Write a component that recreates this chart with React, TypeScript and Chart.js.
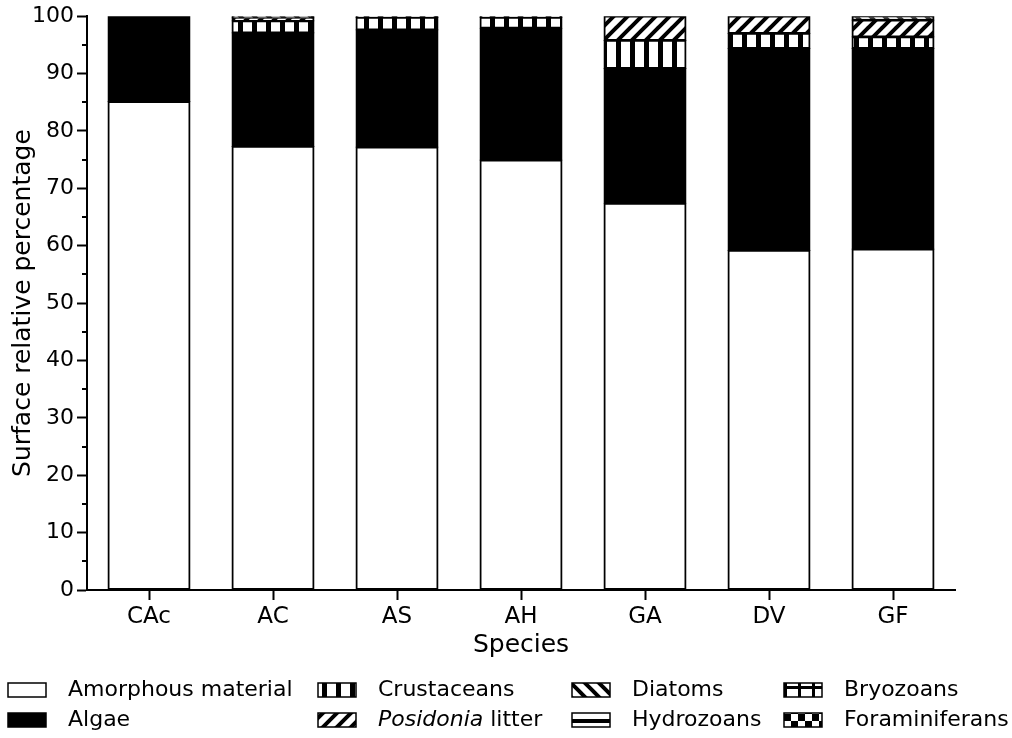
import { useEffect, useRef } from 'react';
import { Chart, registerables } from 'chart.js';
Chart.register(...registerables);

const categories = ['CAc', 'AC', 'AS', 'AH', 'GA', 'DV', 'GF'];
const amorphous = [85.1, 77.3, 77.2, 74.9, 67.4, 59.2, 59.4];
const algae = [14.9, 19.8, 20.4, 23.0, 23.5, 35.2, 35.0];
const crustaceans = [0, 2.1, 2.2, 1.9, 4.9, 2.6, 2.0];
const posidonia = [0, 0.5, 0, 0, 4.2, 3.0, 2.9];
const diatoms = [0, 0.3, 0.2, 0.2, 0, 0, 0.7];
const hydrozoans = [0, 0, 0, 0, 0, 0, 0];
const bryozoans = [0, 0, 0, 0, 0, 0, 0];
const foraminiferans = [0, 0, 0, 0, 0, 0, 0];
const yTicks = [0, 10, 20, 30, 40, 50, 60, 70, 80, 90, 100];
const yMinorTicks = [5, 15, 25, 35, 45, 55, 65, 75, 85, 95];

const FONT = '"DejaVu Sans", "Noto Sans", sans-serif';

type Kind = 'white' | 'black' | 'vstripes' | 'fwd' | 'back' | 'hstripes' | 'grid' | 'checker';

function makePattern(kind: Kind): CanvasPattern | string {
  if (kind === 'white') return '#ffffff';
  if (kind === 'black') return '#000000';
  const c = document.createElement('canvas');
  const size = 14;
  c.width = size;
  c.height = size;
  const ctx = c.getContext('2d')!;
  ctx.fillStyle = '#fff';
  ctx.fillRect(0, 0, size, size);
  ctx.fillStyle = '#000';
  ctx.strokeStyle = '#000';
  if (kind === 'vstripes') {
    ctx.fillRect(0, 0, 5, size);
  } else if (kind === 'fwd' || kind === 'back') {
    ctx.lineWidth = 4;
    ctx.lineCap = 'square';
    for (const o of [-size, 0, size]) {
      ctx.beginPath();
      if (kind === 'fwd') {
        ctx.moveTo(o, size);
        ctx.lineTo(o + size, 0);
      } else {
        ctx.moveTo(o, 0);
        ctx.lineTo(o + size, size);
      }
      ctx.stroke();
    }
  } else if (kind === 'hstripes') {
    ctx.fillRect(0, 5, size, 4);
  } else if (kind === 'grid') {
    ctx.fillRect(0, 0, 3, size);
    ctx.fillRect(0, 0, size, 3);
  } else if (kind === 'checker') {
    ctx.fillRect(0, 0, 7, 7);
    ctx.fillRect(7, 7, 7, 7);
  }
  return ctx.createPattern(c, 'repeat')!;
}

const seriesDefs: { label: string; data: number[]; kind: Kind }[] = [
  { label: 'Amorphous material', data: amorphous, kind: 'white' },
  { label: 'Algae', data: algae, kind: 'black' },
  { label: 'Crustaceans', data: crustaceans, kind: 'vstripes' },
  { label: 'Posidonia litter', data: posidonia, kind: 'fwd' },
  { label: 'Diatoms', data: diatoms, kind: 'back' },
  { label: 'Hydrozoans', data: hydrozoans, kind: 'hstripes' },
  { label: 'Bryozoans', data: bryozoans, kind: 'grid' },
  { label: 'Foraminiferans', data: foraminiferans, kind: 'checker' },
];

// legend slots: column-major, 2 rows x 4 columns
const legendCols = [8, 318, 572, 784];
const legendRows = [690, 720];

export default function App() {
  const ref = useRef<HTMLCanvasElement>(null);
  useEffect(() => {
    const canvas = ref.current!;
    const fills = seriesDefs.map((s) => makePattern(s.kind));

    const extras = {
      id: 'extras',
      afterDraw(chart: any) {
        const ctx = chart.ctx as CanvasRenderingContext2D;
        const y = chart.scales.y;
        const left = chart.chartArea.left;
        ctx.save();
        ctx.strokeStyle = '#000';
        ctx.lineWidth = 2;
        for (const v of yMinorTicks) {
          const py = Math.round(y.getPixelForValue(v));
          ctx.beginPath();
          ctx.moveTo(left - 5, py);
          ctx.lineTo(left, py);
          ctx.stroke();
        }
        seriesDefs.forEach((s, i) => {
          const col = Math.floor(i / 2);
          const row = i % 2;
          const x = legendCols[col];
          const cy = legendRows[row];
          ctx.fillStyle = fills[i] as any;
          ctx.fillRect(x, cy - 7, 38, 14);
          ctx.lineWidth = 1.5;
          ctx.strokeStyle = '#000';
          ctx.strokeRect(x, cy - 7, 38, 14);
          ctx.fillStyle = '#000';
          ctx.textBaseline = 'middle';
          ctx.textAlign = 'left';
          const tx = x + 60;
          if (s.label.startsWith('Posidonia')) {
            ctx.font = `italic 22px ${FONT}`;
            ctx.fillText('Posidonia', tx, cy);
            const w = ctx.measureText('Posidonia').width;
            ctx.font = `22px ${FONT}`;
            ctx.fillText(' litter', tx + w, cy);
          } else {
            ctx.font = `22px ${FONT}`;
            ctx.fillText(s.label, tx, cy);
          }
        });
        ctx.restore();
      },
    };

    const chart = new Chart(canvas, {
      type: 'bar',
      data: {
        labels: categories,
        datasets: seriesDefs.map((s, i) => ({
          label: s.label,
          data: s.data.map((v) => (v > 0 ? v : null)),
          backgroundColor: fills[i] as any,
          borderColor: '#000',
          borderWidth: 2,
          borderSkipped: false,
          inflateAmount: 0.6,
          categoryPercentage: 1,
          barPercentage: 0.66,
        })),
      },
      options: {
        responsive: false,
        animation: false,
        devicePixelRatio: 1,
        layout: { padding: { left: 0, top: 16, right: 57, bottom: 78 } },
        plugins: { legend: { display: false }, tooltip: { enabled: false } },
        scales: {
          x: {
            stacked: true,
            grid: {
              display: true,
              drawOnChartArea: false,
              offset: false,
              tickLength: 10,
              tickWidth: 2,
              tickColor: '#000',
            },
            border: { color: '#000', width: 2 },
            ticks: { color: '#000', font: { family: FONT, size: 23 }, padding: 3, maxRotation: 0 },
            title: {
              display: true,
              text: 'Species',
              color: '#000',
              font: { family: FONT, size: 25 },
              padding: 0,
            },
            afterFit: (s: any) => {
              s.height = 70;
            },
          },
          y: {
            stacked: true,
            min: 0,
            max: 100,
            afterBuildTicks: (s: any) => {
              s.ticks = yTicks.map((v) => ({ value: v }));
            },
            ticks: { color: '#000', font: { family: FONT, size: 22 }, padding: 3 },
            grid: { drawOnChartArea: false, tickLength: 10, tickWidth: 2, tickColor: '#000' },
            border: { color: '#000', width: 2 },
            title: {
              display: true,
              text: 'Surface relative percentage',
              color: '#000',
              font: { family: FONT, size: 25 },
              padding: { top: 8, bottom: 0 },
            },
            afterFit: (s: any) => {
              s.width = 87;
            },
          },
        },
      } as any,
      plugins: [extras],
    });
    return () => chart.destroy();
  }, []);
  return (
    <div style={{ position: 'absolute', left: 0, top: 0, width: 1012, height: 738, background: '#fff' }}>
      <canvas ref={ref} width={1012} height={738} style={{ display: 'block' }} />
    </div>
  );
}
